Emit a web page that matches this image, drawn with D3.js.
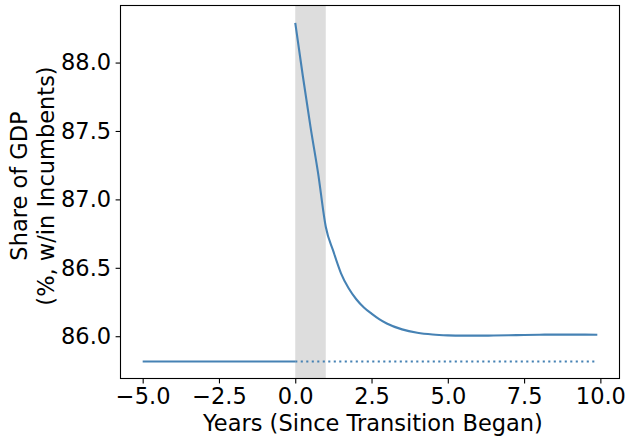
<!DOCTYPE html>
<html>
<head>
<meta charset="utf-8">
<script src="https://cdn.jsdelivr.net/npm/d3@7"></script>
<style>
  body { margin: 0; background: #fff; }
  svg { display: block; font-family: "DejaVu Sans", sans-serif; }
</style>
</head>
<body>
<svg id="chart" width="626" height="437"></svg>
<script>
// ---- data ----
const preYears = [-5, 0];
const preValues = [85.815, 85.815];

const postYears = [0, 0.25, 0.5, 0.75, 1.0, 1.25, 1.5, 1.75, 2.0, 2.25, 2.5, 2.75, 3.0, 3.5, 4.0, 4.5, 5.0, 5.5, 6.0, 6.5, 7.0, 7.5, 8.0, 8.5, 9.0, 9.5, 9.9];
const postValues = [88.29, 87.90, 87.53, 87.19, 86.80, 86.62, 86.46, 86.35, 86.27, 86.21, 86.165, 86.125, 86.093, 86.05, 86.025, 86.012, 86.006, 86.004, 86.004, 86.005, 86.007, 86.009, 86.011, 86.012, 86.012, 86.012, 86.011];

const counterfactualYears = [0, 9.9];
const counterfactualValues = [85.815, 85.815];

const shadeSpan = [0, 1];

const xTicks = [-5, -2.5, 0, 2.5, 5, 7.5, 10];
const yTicks = [86.0, 86.5, 87.0, 87.5, 88.0];

const xLabel = "Years (Since Transition Began)";
const yLabelLines = ["Share of GDP", "(%, w/in Incumbents)"];

// ---- layout ----
(function () {
const svg = d3.select("#chart");
const mL = 120.5, mR = 619.5, mT = 5.5, mB = 378.5;
const color = "#4682b4";
const fs = 22.5;

const x = d3.scaleLinear().domain([-5.727, 10.627]).range([mL, mR]);
const y = d3.scaleLinear().domain([85.691, 88.417]).range([mB, mT]);

svg.append("rect")
  .attr("x", x(shadeSpan[0])).attr("y", mT)
  .attr("width", x(shadeSpan[1]) - x(shadeSpan[0]))
  .attr("height", mB - mT)
  .attr("fill", "#dddddd");

const line = d3.line().x((d) => x(d[0])).y((d) => y(d[1]));

svg.append("path")
  .datum(preYears.map((t, i) => [t, preValues[i]]))
  .attr("d", line).attr("fill", "none")
  .attr("stroke", color).attr("stroke-width", 2.1);

svg.append("path")
  .datum(counterfactualYears.map((t, i) => [t, counterfactualValues[i]]))
  .attr("d", line).attr("fill", "none")
  .attr("stroke", color).attr("stroke-width", 2.1)
  .attr("stroke-dasharray", "2.1,3.4");

svg.append("path")
  .datum(postYears.map((t, i) => [t, postValues[i]]))
  .attr("d", line.curve(d3.curveMonotoneX)).attr("fill", "none")
  .attr("stroke", color).attr("stroke-width", 2.1)
  .attr("stroke-linejoin", "round");

const xAxis = svg.append("g").attr("transform", `translate(0,${mB})`)
  .call(d3.axisBottom(x).tickValues(xTicks).tickSize(4.9).tickPadding(4.5)
    .tickFormat((d) => d3.format(".1f")(d).replace("-", "\u2212")));
const yAxis = svg.append("g").attr("transform", `translate(${mL},0)`)
  .call(d3.axisLeft(y).tickValues(yTicks).tickSize(4.9).tickPadding(4.5)
    .tickFormat(d3.format(".1f")));

[xAxis, yAxis].forEach((g) => {
  g.select(".domain").remove();
  g.selectAll("line").attr("stroke", "#000").attr("stroke-width", 1.1);
  g.selectAll("text").attr("font-size", fs).attr("fill", "#000")
    .attr("font-family", "DejaVu Sans, sans-serif");
});

svg.append("rect")
  .attr("x", mL).attr("y", mT)
  .attr("width", mR - mL).attr("height", mB - mT)
  .attr("fill", "none").attr("stroke", "#000").attr("stroke-width", 1.1);

svg.append("text")
  .attr("x", 373).attr("y", 431)
  .attr("text-anchor", "middle").attr("font-size", fs)
  .text(xLabel);

const yl = svg.append("text")
  .attr("transform", "translate(27,186) rotate(-90)")
  .attr("text-anchor", "middle").attr("font-size", fs);
yLabelLines.forEach((s, i) => {
  yl.append("tspan").attr("x", 0).attr("y", i * 27).text(s);
});
})();
</script>
</body>
</html>
